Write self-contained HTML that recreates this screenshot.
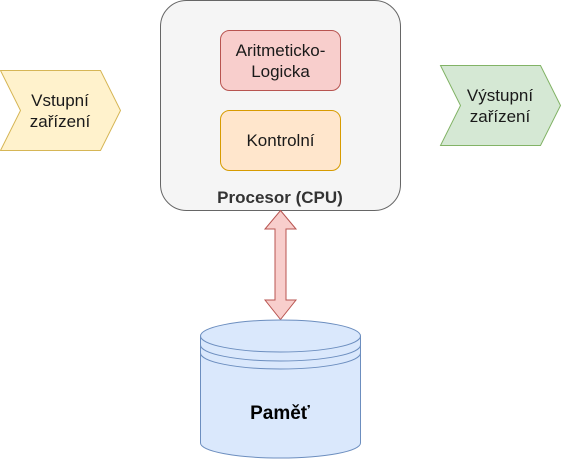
<!DOCTYPE html>
<html><head><meta charset="utf-8"><style>
html,body{margin:0;padding:0;background:#fff;}
svg{display:block;}
text{font-family:"Liberation Sans",sans-serif;font-size:17px;fill:#1a1a1a;}
</style></head><body>
<svg width="561" height="461" viewBox="0 0 561 461" xmlns="http://www.w3.org/2000/svg">
<rect x="160.5" y="0.5" width="240" height="210" rx="26" fill="#f5f5f5" stroke="#666"/>
<rect x="220.5" y="30.5" width="120" height="60" rx="9" fill="#f8cecc" stroke="#b85450"/>
<text x="280.5" y="56" text-anchor="middle">Aritmeticko-</text>
<text x="280.5" y="77" text-anchor="middle">Logicka</text>
<rect x="220.5" y="110.5" width="120" height="60" rx="9" fill="#ffe6cc" stroke="#d79b00"/>
<text x="280.5" y="146" text-anchor="middle">Kontrolní</text>
<text x="280" y="203" text-anchor="middle" style="font-weight:bold;fill:#333">Procesor (CPU)</text>
<polygon points="0.5,70.5 100.5,70.5 120.5,110.5 100.5,150.5 0.5,150.5 20.5,110.5" fill="#fff2cc" stroke="#d6b656"/>
<text x="60" y="106" text-anchor="middle">Vstupní</text>
<text x="60" y="127" text-anchor="middle">zařízení</text>
<polygon points="440.5,65.5 540.5,65.5 560.5,105.5 540.5,145.5 440.5,145.5 460.5,105.5" fill="#d5e8d4" stroke="#82b366"/>
<text x="500" y="101" text-anchor="middle">Výstupní</text>
<text x="500" y="122" text-anchor="middle">zařízení</text>
<polygon points="280.5,210.5 296,229 286,229 286,300 296,300 280.5,319.5 265,300 275,300 275,229 265,229" fill="#f8cecc" stroke="#b85450"/>
<path d="M200.5,336 A80,16 0 0 1 360.5,336 L360.5,443 A80,15 0 0 1 200.5,443 Z" fill="#dae8fc" stroke="#6c8ebf"/>
<path d="M200.5,336 A80,16 0 0 0 360.5,336 M200.5,345 A80,16 0 0 0 360.5,345 M200.5,353 A80,16 0 0 0 360.5,353" fill="none" stroke="#6c8ebf"/>
<text x="280" y="419" text-anchor="middle" style="font-weight:bold;font-size:19px;fill:#000">Paměť</text>
</svg>
</body></html>
